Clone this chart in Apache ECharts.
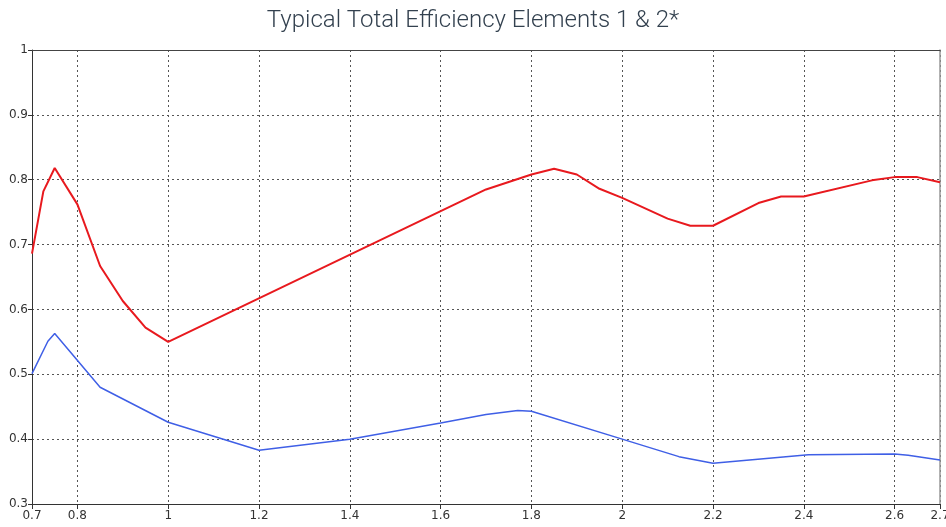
<!DOCTYPE html>
<html>
<head>
<meta charset="utf-8">
<script src="https://cdn.jsdelivr.net/npm/echarts@6/dist/echarts.min.js"></script>
<style>html,body{margin:0;padding:0;background:#fff}#c{width:946px;height:527px}</style>
</head>
<body>
<div id="c"></div>
<script>
var titleText = 'Typical Total Efficiency Elements 1 & 2*';
var xTicks = [0.7, 0.8, 1, 1.2, 1.4, 1.6, 1.8, 2, 2.2, 2.4, 2.6, 2.7];
var redX = [0.7, 0.725, 0.75, 0.8, 0.85, 0.9, 0.95, 1.0, 1.7, 1.8, 1.85, 1.9, 1.95, 2.0, 2.1, 2.15, 2.2, 2.3, 2.35, 2.4, 2.55, 2.6, 2.65, 2.7];
var redY = [0.686, 0.782, 0.818, 0.762, 0.667, 0.613, 0.572, 0.55, 0.785, 0.808, 0.817, 0.808, 0.786, 0.772, 0.740, 0.729, 0.729, 0.764, 0.774, 0.774, 0.799, 0.804, 0.804, 0.796];
var blueX = [0.7, 0.735, 0.75, 0.85, 1.0, 1.2, 1.4, 1.6, 1.7, 1.77, 1.8, 2.0, 2.125, 2.2, 2.41, 2.6, 2.63, 2.7];
var blueY = [0.501, 0.551, 0.563, 0.48, 0.426, 0.383, 0.4, 0.425, 0.438, 0.444, 0.443, 0.40, 0.373, 0.363, 0.376, 0.377, 0.375, 0.368];

function pairs(xs, ys) { return xs.map(function (x, i) { return [x, ys[i]]; }); }

var chart = echarts.init(document.getElementById('c'), null, {renderer: 'canvas'});
var gridLine = {show: true, lineStyle: {color: '#555', type: [2, 3], width: 1}};
var labelFont = {fontFamily: 'DejaVu Sans', fontSize: 12, color: '#333'};
chart.setOption({
  animation: false,
  backgroundColor: '#fff',
  title: {
    text: titleText, left: 'center', top: 4,
    textStyle: {fontFamily: 'Roboto', fontWeight: 300, fontSize: 24, color: '#33414f'}
  },
  grid: {left: 32, right: 6, top: 50, bottom: 23, containLabel: false, outerBoundsMode: 'none'},
  xAxis: [{
    type: 'value', min: 0.7, max: 2.7,
    axisLine: {show: true, onZero: false, lineStyle: {color: '#333', width: 1}},
    axisTick: {show: true, length: 5, customValues: xTicks, lineStyle: {color: '#333'}},
    axisLabel: Object.assign({margin: 6, customValues: xTicks, hideOverlap: false}, labelFont),
    splitLine: gridLine
  }, {
    type: 'value', min: 0.7, max: 2.7, position: 'top',
    axisLine: {show: true, onZero: false, lineStyle: {color: '#444', width: 1}},
    axisTick: {show: false}, axisLabel: {show: false}, splitLine: {show: false}
  }],
  yAxis: [{
    type: 'value', min: 0.3, max: 1, interval: 0.1,
    axisLine: {show: true, onZero: false, lineStyle: {color: '#333', width: 1}},
    axisTick: {show: true, length: 4, lineStyle: {color: '#333'}},
    axisLabel: Object.assign({margin: 4}, labelFont),
    splitLine: gridLine
  }, {
    type: 'value', min: 0.3, max: 1, position: 'right',
    axisLine: {show: true, onZero: false, lineStyle: {color: '#999', width: 1.5}},
    axisTick: {show: false}, axisLabel: {show: false}, splitLine: {show: false}
  }],
  series: [{
    type: 'line', name: 'Total', data: pairs(redX, redY), showSymbol: false, symbol: 'none',
    lineStyle: {color: '#e8191e', width: 2}, z: 3
  }, {
    type: 'line', name: 'Element', data: pairs(blueX, blueY), showSymbol: false, symbol: 'none',
    lineStyle: {color: '#3f5fe6', width: 1.5}, z: 3
  }]
});
</script>
</body>
</html>
